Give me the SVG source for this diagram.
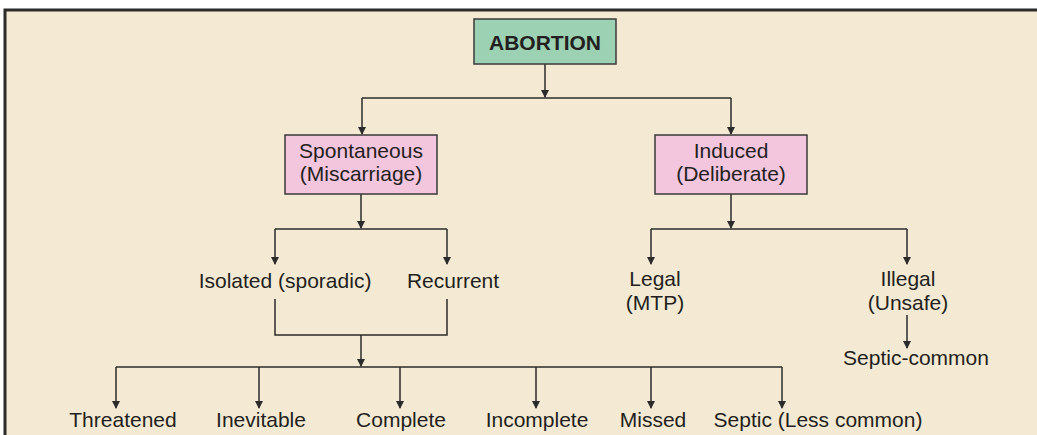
<svg xmlns="http://www.w3.org/2000/svg" width="1037" height="435" viewBox="0 0 1037 435">
<style>
.t{font-family:"Liberation Sans",Arial,sans-serif;font-size:21px;fill:#231f20;text-anchor:middle}
.b{font-weight:bold}
.box{stroke:#3a3a3a;stroke-width:1.5}
.ln{fill:none;stroke:#2b2b2b;stroke-width:1.5}
</style>
<defs>
<marker id="ah" markerWidth="8" markerHeight="10" refX="7" refY="4" orient="auto" markerUnits="userSpaceOnUse">
<path d="M0,0 L8,4 L0,8 Z" fill="#2b2b2b"/>
</marker>
</defs>
<rect x="0" y="0" width="1037" height="435" fill="#ffffff"/>
<rect x="5" y="10" width="1032" height="425" fill="#f4ead4"/>
<path d="M5,435 V10 H1037" fill="none" stroke="#2b2b2b" stroke-width="3"/>
<g id="connectors">
<path class="ln" d="M545,64 V97" marker-end="url(#ah)"/>
<path class="ln" d="M362,98 H731"/>
<path class="ln" d="M362,98 V134" marker-end="url(#ah)"/>
<path class="ln" d="M731,98 V134" marker-end="url(#ah)"/>
<path class="ln" d="M361,194 V228" marker-end="url(#ah)"/>
<path class="ln" d="M275,229 H447"/>
<path class="ln" d="M275,229 V264" marker-end="url(#ah)"/>
<path class="ln" d="M447,229 V264" marker-end="url(#ah)"/>
<path class="ln" d="M731,194 V228" marker-end="url(#ah)"/>
<path class="ln" d="M651,229 H907"/>
<path class="ln" d="M651,229 V264" marker-end="url(#ah)"/>
<path class="ln" d="M907,229 V264" marker-end="url(#ah)"/>
<path class="ln" d="M907,315 V348" marker-end="url(#ah)"/>
<path class="ln" d="M275,299 V335 H447 V299"/>
<path class="ln" d="M361,335 V366" marker-end="url(#ah)"/>
<path class="ln" d="M116,367 H782"/>
<path class="ln" d="M116,367 V408" marker-end="url(#ah)"/>
<path class="ln" d="M259,367 V408" marker-end="url(#ah)"/>
<path class="ln" d="M400,367 V408" marker-end="url(#ah)"/>
<path class="ln" d="M536,367 V408" marker-end="url(#ah)"/>
<path class="ln" d="M651,367 V408" marker-end="url(#ah)"/>
<path class="ln" d="M782,367 V408" marker-end="url(#ah)"/>
</g>
<g id="abortion">
<rect class="box" x="474" y="19" width="142" height="45" fill="#9dd1b4"/>
<text class="t b" x="545" y="50">ABORTION</text>
</g>
<g id="spontaneous">
<rect class="box" x="285" y="135" width="152" height="59" fill="#f3c6de"/>
<text class="t" x="361" y="158">Spontaneous</text>
<text class="t" x="361" y="181">(Miscarriage)</text>
</g>
<g id="induced">
<rect class="box" x="655" y="135" width="152" height="59" fill="#f3c6de"/>
<text class="t" x="731" y="158">Induced</text>
<text class="t" x="731" y="181">(Deliberate)</text>
</g>
<g id="isolated"><text class="t" x="285" y="288">Isolated (sporadic)</text></g>
<g id="recurrent"><text class="t" x="453" y="288">Recurrent</text></g>
<g id="legal"><text class="t" x="655" y="286">Legal</text><text class="t" x="655" y="310">(MTP)</text></g>
<g id="illegal"><text class="t" x="908" y="286">Illegal</text><text class="t" x="908" y="310">(Unsafe)</text></g>
<g id="septic-common"><text class="t" x="916" y="365">Septic-common</text></g>
<g id="threatened"><text class="t" x="123" y="427">Threatened</text></g>
<g id="inevitable"><text class="t" x="261" y="427">Inevitable</text></g>
<g id="complete"><text class="t" x="401" y="427">Complete</text></g>
<g id="incomplete"><text class="t" x="537" y="427">Incomplete</text></g>
<g id="missed"><text class="t" x="653" y="427">Missed</text></g>
<g id="septic"><text class="t" x="818" y="427">Septic (Less common)</text></g>
</svg>
